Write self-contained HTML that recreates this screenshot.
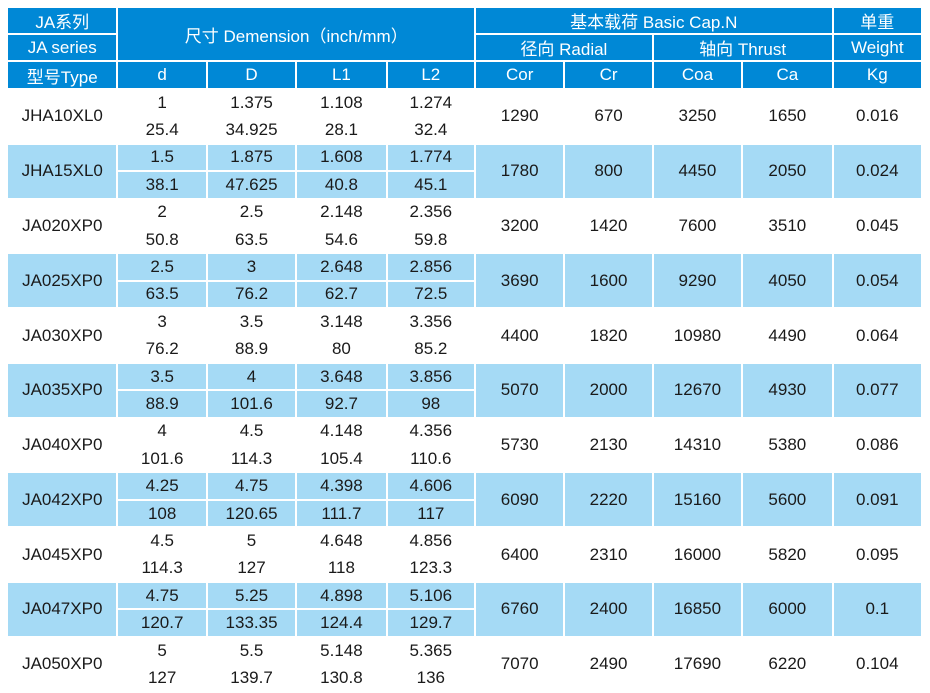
<!DOCTYPE html>
<html><head><meta charset="utf-8"><style>
html,body{margin:0;padding:0;background:#fff;width:930px;height:692px;overflow:hidden}
table{position:absolute;left:6px;top:6px;width:917px;border-collapse:separate;border-spacing:2px;table-layout:fixed;font-family:"Liberation Sans","Noto Sans CJK SC",sans-serif;font-size:17px;color:#1a1a1a}
td{text-align:center;vertical-align:middle;padding:0;white-space:nowrap;overflow:hidden}
tr.h td{background:#0088d6;color:#fff}
tr.h1 td{height:25px}
tr.h3 td{height:26px}
tr.d td{height:25.4px}
tr.b td{background:#a5daf5}
</style></head><body>
<table>
<colgroup><col style="width:108px"><col style="width:87px"><col style="width:87px"><col style="width:88px"><col style="width:86px"><col style="width:87px"><col style="width:86px"><col style="width:87px"><col style="width:88px"><col style="width:87px"></colgroup>
<tr class="h h1"><td>JA系列</td><td colspan="4" rowspan="2">尺寸 Demension（inch/mm）</td><td colspan="4">基本载荷 Basic Cap.N</td><td>单重</td></tr>
<tr class="h h1"><td>JA series</td><td colspan="2">径向 Radial</td><td colspan="2">轴向 Thrust</td><td>Weight</td></tr>
<tr class="h h3"><td>型号Type</td><td>d</td><td>D</td><td>L1</td><td>L2</td><td>Cor</td><td>Cr</td><td>Coa</td><td>Ca</td><td>Kg</td></tr>

<tr class="d"><td rowspan="2">JHA10XL0</td><td>1</td><td>1.375</td><td>1.108</td><td>1.274</td><td rowspan="2">1290</td><td rowspan="2">670</td><td rowspan="2">3250</td><td rowspan="2">1650</td><td rowspan="2">0.016</td></tr>
<tr class="d"><td>25.4</td><td>34.925</td><td>28.1</td><td>32.4</td></tr>
<tr class="d b"><td rowspan="2">JHA15XL0</td><td>1.5</td><td>1.875</td><td>1.608</td><td>1.774</td><td rowspan="2">1780</td><td rowspan="2">800</td><td rowspan="2">4450</td><td rowspan="2">2050</td><td rowspan="2">0.024</td></tr>
<tr class="d b"><td>38.1</td><td>47.625</td><td>40.8</td><td>45.1</td></tr>
<tr class="d"><td rowspan="2">JA020XP0</td><td>2</td><td>2.5</td><td>2.148</td><td>2.356</td><td rowspan="2">3200</td><td rowspan="2">1420</td><td rowspan="2">7600</td><td rowspan="2">3510</td><td rowspan="2">0.045</td></tr>
<tr class="d"><td>50.8</td><td>63.5</td><td>54.6</td><td>59.8</td></tr>
<tr class="d b"><td rowspan="2">JA025XP0</td><td>2.5</td><td>3</td><td>2.648</td><td>2.856</td><td rowspan="2">3690</td><td rowspan="2">1600</td><td rowspan="2">9290</td><td rowspan="2">4050</td><td rowspan="2">0.054</td></tr>
<tr class="d b"><td>63.5</td><td>76.2</td><td>62.7</td><td>72.5</td></tr>
<tr class="d"><td rowspan="2">JA030XP0</td><td>3</td><td>3.5</td><td>3.148</td><td>3.356</td><td rowspan="2">4400</td><td rowspan="2">1820</td><td rowspan="2">10980</td><td rowspan="2">4490</td><td rowspan="2">0.064</td></tr>
<tr class="d"><td>76.2</td><td>88.9</td><td>80</td><td>85.2</td></tr>
<tr class="d b"><td rowspan="2">JA035XP0</td><td>3.5</td><td>4</td><td>3.648</td><td>3.856</td><td rowspan="2">5070</td><td rowspan="2">2000</td><td rowspan="2">12670</td><td rowspan="2">4930</td><td rowspan="2">0.077</td></tr>
<tr class="d b"><td>88.9</td><td>101.6</td><td>92.7</td><td>98</td></tr>
<tr class="d"><td rowspan="2">JA040XP0</td><td>4</td><td>4.5</td><td>4.148</td><td>4.356</td><td rowspan="2">5730</td><td rowspan="2">2130</td><td rowspan="2">14310</td><td rowspan="2">5380</td><td rowspan="2">0.086</td></tr>
<tr class="d"><td>101.6</td><td>114.3</td><td>105.4</td><td>110.6</td></tr>
<tr class="d b"><td rowspan="2">JA042XP0</td><td>4.25</td><td>4.75</td><td>4.398</td><td>4.606</td><td rowspan="2">6090</td><td rowspan="2">2220</td><td rowspan="2">15160</td><td rowspan="2">5600</td><td rowspan="2">0.091</td></tr>
<tr class="d b"><td>108</td><td>120.65</td><td>111.7</td><td>117</td></tr>
<tr class="d"><td rowspan="2">JA045XP0</td><td>4.5</td><td>5</td><td>4.648</td><td>4.856</td><td rowspan="2">6400</td><td rowspan="2">2310</td><td rowspan="2">16000</td><td rowspan="2">5820</td><td rowspan="2">0.095</td></tr>
<tr class="d"><td>114.3</td><td>127</td><td>118</td><td>123.3</td></tr>
<tr class="d b"><td rowspan="2">JA047XP0</td><td>4.75</td><td>5.25</td><td>4.898</td><td>5.106</td><td rowspan="2">6760</td><td rowspan="2">2400</td><td rowspan="2">16850</td><td rowspan="2">6000</td><td rowspan="2">0.1</td></tr>
<tr class="d b"><td>120.7</td><td>133.35</td><td>124.4</td><td>129.7</td></tr>
<tr class="d"><td rowspan="2">JA050XP0</td><td>5</td><td>5.5</td><td>5.148</td><td>5.365</td><td rowspan="2">7070</td><td rowspan="2">2490</td><td rowspan="2">17690</td><td rowspan="2">6220</td><td rowspan="2">0.104</td></tr>
<tr class="d"><td>127</td><td>139.7</td><td>130.8</td><td>136</td></tr>
</table>
</body></html>
